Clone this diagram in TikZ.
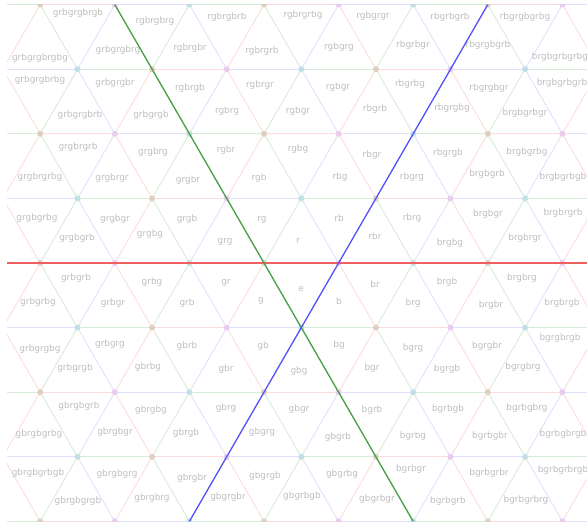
\documentclass[tikz,border=0pt]{standalone}
\usepackage{fontspec}
\setmainfont{DejaVu Sans}
\usepackage{xcolor}
\usetikzlibrary{calc}

\definecolor{wall0}{RGB}{224,224,252}
\definecolor{wall1}{RGB}{214,236,214}
\definecolor{wall2}{RGB}{252,220,220}
\definecolor{vert0}{RGB}{222,208,192}
\definecolor{vert1}{RGB}{232,204,236}
\definecolor{vert2}{RGB}{194,222,230}
\definecolor{mirrorred}{RGB}{240,96,96}
\definecolor{mirrorgreen}{RGB}{70,160,70}
\definecolor{mirrorblue}{RGB}{84,84,250}

\tikzset{
  alcove/.style={anchor=base, yshift=-2.4pt, inner sep=0pt,
    font=\fontsize{8.9}{10}\selectfont, text=black!26},
  faintwall/.style={line width=0.9pt},
  vertdot/.style={circle, inner sep=0pt, minimum size=6pt},
  mirror/.style={line width=1.3pt},
}

\begin{document}
\begin{tikzpicture}[x=1pt, y=-1pt]
  \useasboundingbox (0,0) rectangle (587,522);

  % Triangle tiling
  \begin{scope}
    \clip (7,4.2) rectangle (590,521.8);
    \foreach \j in {-4,...,4} {
      \foreach \i in {-8,...,7} {
        \pgfmathsetmacro\vx{264+74.6*\i+37.3*\j}
        \pgfmathsetmacro\vy{263-64.6*\j}
        \pgfmathtruncatemacro\vt{Mod(\i-\j,3)}
        \pgfmathtruncatemacro\ch{Mod(2+\vt,3)}
        \pgfmathtruncatemacro\cr{Mod(1+\vt,3)}
        \draw[faintwall, draw=wall\ch] (\vx,\vy) -- ++(74.6,0);
        \ifnum\j<4
          \draw[faintwall, draw=wall\cr] (\vx,\vy) -- ++(37.3,-64.6);
          \draw[faintwall, draw=wall\ch] (\vx,\vy) -- ++(-37.3,-64.6);
        \fi
      }
    }
    % Vertices
    \foreach \j in {-4,...,4} {
      \foreach \i in {-8,...,7} {
        \pgfmathsetmacro\vx{264+74.6*\i+37.3*\j}
        \pgfmathsetmacro\vy{263-64.6*\j}
        \pgfmathtruncatemacro\vt{Mod(\i-\j,3)}
        \node[vertdot, fill=vert\vt] (v\i\j) at (\vx,\vy) {};
      }
    }
  \end{scope}

  % Row 0
  \node[alcove] (t0-1) at (78,13) {grbgrgbrgb};
  \node[alcove] (t0-2) at (155,21) {rgbrgbrg};
  \node[alcove] (t0-3) at (227,17) {rgbrgbrb};
  \node[alcove] (t0-4) at (303,15) {rgbrgrbg};
  \node[alcove] (t0-5) at (373,16) {rgbgrgr};
  \node[alcove] (t0-6) at (450,17) {rbgrbgrb};
  \node[alcove] (t0-7) at (525,17) {rbgrgbgrbg};
  \node[alcove] (t0-8) at (40,58) {grbgrgbrgbg};
  \node[alcove] (t0-9) at (118,50) {grbgrgbrg};
  \node[alcove] (t0-10) at (190,48) {rgbrgbr};
  \node[alcove] (t0-11) at (262,51) {rgbrgrb};
  \node[alcove] (t0-12) at (339,47) {rgbgrg};
  \node[alcove] (t0-13) at (413,45) {rbgrbgr};
  \node[alcove] (t0-14) at (488,45) {rbgrgbgrb};
  \node[alcove] (t0-15) at (560,57) {brgbgrbgrbg};

  % Row 1
  \node[alcove] (t1-1) at (40,80) {grbgrgbrbg};
  \node[alcove] (t1-2) at (115,83) {grbgrgbr};
  \node[alcove] (t1-3) at (190,88) {rgbrgb};
  \node[alcove] (t1-4) at (260,85) {rgbrgr};
  \node[alcove] (t1-5) at (338,87) {rgbgr};
  \node[alcove] (t1-6) at (410,84) {rbgrbg};
  \node[alcove] (t1-7) at (489,88) {rbgrgbgr};
  \node[alcove] (t1-8) at (562,83) {brgbgrbgrb};
  \node[alcove] (t1-9) at (80,115) {grbgrgbrb};
  \node[alcove] (t1-10) at (151,115) {grbgrgb};
  \node[alcove] (t1-11) at (227,111) {rgbrg};
  \node[alcove] (t1-12) at (298,111) {rgbgr};
  \node[alcove] (t1-13) at (375,109) {rbgrb};
  \node[alcove] (t1-14) at (452,108) {rbgrgbg};
  \node[alcove] (t1-15) at (525,113) {brgbgrbgr};

  % Row 2
  \node[alcove] (t2-1) at (78,147) {grgbrgrb};
  \node[alcove] (t2-2) at (153,152) {grgbrg};
  \node[alcove] (t2-3) at (226,150) {rgbr};
  \node[alcove] (t2-4) at (298,149) {rgbg};
  \node[alcove] (t2-5) at (372,155) {rbgr};
  \node[alcove] (t2-6) at (448,153) {rbgrgb};
  \node[alcove] (t2-7) at (527,152) {brgbgrbg};
  \node[alcove] (t2-8) at (40,177) {grgbrgrbg};
  \node[alcove] (t2-9) at (112,178) {grgbrgr};
  \node[alcove] (t2-10) at (188,180) {grgbr};
  \node[alcove] (t2-11) at (259,178) {rgb};
  \node[alcove] (t2-12) at (340,177) {rbg};
  \node[alcove] (t2-13) at (412,177) {rbgrg};
  \node[alcove] (t2-14) at (487,174) {brgbgrb};
  \node[alcove] (t2-15) at (563,177) {brgbgrbgb};

  % Row 3
  \node[alcove] (t3-1) at (37,218) {grgbgrbg};
  \node[alcove] (t3-2) at (115,219) {grgbgr};
  \node[alcove] (t3-3) at (187,219) {grgb};
  \node[alcove] (t3-4) at (262,219) {rg};
  \node[alcove] (t3-5) at (339,219) {rb};
  \node[alcove] (t3-6) at (412,218) {rbrg};
  \node[alcove] (t3-7) at (488,214) {brgbgr};
  \node[alcove] (t3-8) at (563,213) {brgbrgrb};
  \node[alcove] (t3-9) at (77,238) {grgbgrb};
  \node[alcove] (t3-10) at (150,234) {grgbg};
  \node[alcove] (t3-11) at (225,241) {grg};
  \node[alcove] (t3-12) at (298,241) {r};
  \node[alcove] (t3-13) at (375,237) {rbr};
  \node[alcove] (t3-14) at (450,243) {brgbg};
  \node[alcove] (t3-15) at (525,238) {brgbrgr};

  % Row 4
  \node[alcove] (t4-1) at (76,278) {grbgrb};
  \node[alcove] (t4-2) at (152,282) {grbg};
  \node[alcove] (t4-3) at (226,282) {gr};
  \node[alcove] (t4-4) at (301,289) {e};
  \node[alcove] (t4-5) at (375,285) {br};
  \node[alcove] (t4-6) at (447,282) {brgb};
  \node[alcove] (t4-7) at (522,278) {brgbrg};
  \node[alcove] (t4-8) at (38,302) {grbgrbg};
  \node[alcove] (t4-9) at (113,303) {grbgr};
  \node[alcove] (t4-10) at (187,303) {grb};
  \node[alcove] (t4-11) at (261,300) {g};
  \node[alcove] (t4-12) at (339,302) {b};
  \node[alcove] (t4-13) at (413,303) {brg};
  \node[alcove] (t4-14) at (491,305) {brgbr};
  \node[alcove] (t4-15) at (562,303) {brgbrgb};

  % Row 5
  \node[alcove] (t5-1) at (40,349) {grbgrgbg};
  \node[alcove] (t5-2) at (110,344) {grbgrg};
  \node[alcove] (t5-3) at (187,346) {gbrb};
  \node[alcove] (t5-4) at (263,346) {gb};
  \node[alcove] (t5-5) at (339,345) {bg};
  \node[alcove] (t5-6) at (413,348) {bgrg};
  \node[alcove] (t5-7) at (487,346) {bgrgbr};
  \node[alcove] (t5-8) at (560,338) {bgrgbrgb};
  \node[alcove] (t5-9) at (75,368) {grbgrgb};
  \node[alcove] (t5-10) at (148,367) {gbrbg};
  \node[alcove] (t5-11) at (226,369) {gbr};
  \node[alcove] (t5-12) at (299,371) {gbg};
  \node[alcove] (t5-13) at (372,368) {bgr};
  \node[alcove] (t5-14) at (447,369) {bgrgb};
  \node[alcove] (t5-15) at (523,367) {bgrgbrg};

  % Row 6
  \node[alcove] (t6-1) at (79,406) {gbrgbgrb};
  \node[alcove] (t6-2) at (151,410) {gbrgbg};
  \node[alcove] (t6-3) at (226,408) {gbrg};
  \node[alcove] (t6-4) at (299,409) {gbgr};
  \node[alcove] (t6-5) at (372,410) {bgrb};
  \node[alcove] (t6-6) at (448,409) {bgrbgb};
  \node[alcove] (t6-7) at (527,408) {bgrbgbrg};
  \node[alcove] (t6-8) at (39,434) {gbrgbgrbg};
  \node[alcove] (t6-9) at (115,432) {gbrgbgr};
  \node[alcove] (t6-10) at (186,433) {gbrgb};
  \node[alcove] (t6-11) at (262,432) {gbgrg};
  \node[alcove] (t6-12) at (338,437) {gbgrb};
  \node[alcove] (t6-13) at (413,436) {bgrbg};
  \node[alcove] (t6-14) at (490,436) {bgrbgbr};
  \node[alcove] (t6-15) at (563,434) {bgrbgbrgb};

  % Row 7
  \node[alcove] (t7-1) at (38,473) {gbrgbgrbgb};
  \node[alcove] (t7-2) at (117,474) {gbrgbgrg};
  \node[alcove] (t7-3) at (192,478) {gbrgbr};
  \node[alcove] (t7-4) at (265,476) {gbgrgb};
  \node[alcove] (t7-5) at (342,474) {gbgrbg};
  \node[alcove] (t7-6) at (411,469) {bgrbgr};
  \node[alcove] (t7-7) at (489,473) {bgrbgrbr};
  \node[alcove] (t7-8) at (563,470) {bgrbgrbrgb};
  \node[alcove] (t7-9) at (78,501) {gbrgbgrgb};
  \node[alcove] (t7-10) at (152,498) {gbrgbrg};
  \node[alcove] (t7-11) at (228,497) {gbgrgbr};
  \node[alcove] (t7-12) at (302,496) {gbgrbgb};
  \node[alcove] (t7-13) at (377,499) {gbgrbgr};
  \node[alcove] (t7-14) at (448,501) {bgrbgrb};
  \node[alcove] (t7-15) at (526,500) {bgrbgrbrg};

  % Mirrors
  \coordinate (redW) at (7,263);
  \coordinate (redE) at (587,263);
  \coordinate (greenN) at (114.8,4.6);
  \coordinate (greenS) at (413.2,521.4);
  \coordinate (blueN) at (487.8,4.6);
  \coordinate (blueS) at (189.4,521.4);
  \draw[mirror, mirrorred] (redW) -- (redE);
  \draw[mirror, mirrorgreen] (greenN) -- (greenS);
  \draw[mirror, mirrorblue] (blueN) -- (blueS);
\end{tikzpicture}
\end{document}
